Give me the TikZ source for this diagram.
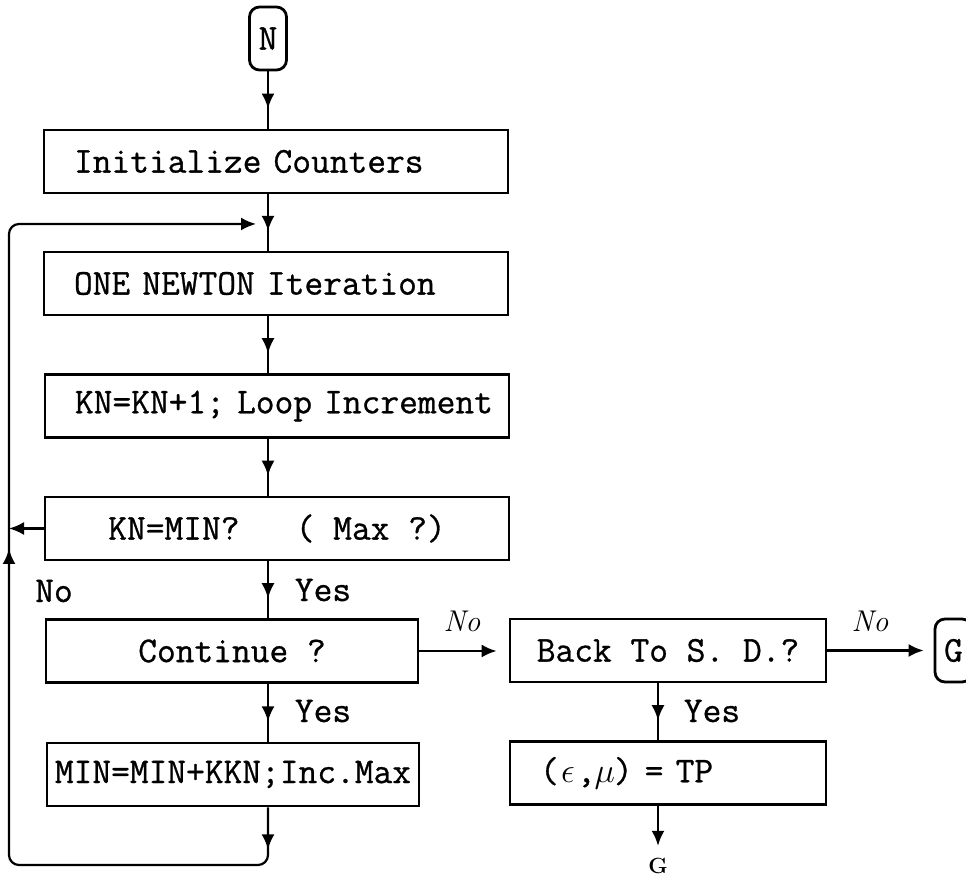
\documentclass[tikz,border=0pt]{standalone}
\usepackage{fontspec}
\setmonofont{Latin Modern Mono}[FakeBold=0.8]
\usetikzlibrary{arrows.meta,decorations.markings}

\newcommand{\flowfont}{\ttfamily\fontsize{18.2}{20}\selectfont}
\newcommand{\ttgreek}[1]{\makebox[0.5em]{$#1$}}

\tikzset{
  tip/.style={-{Latex[length=7.5pt,width=6.5pt]}},
  box/.style={draw, line width=1.4pt, minimum height=31.5pt, inner xsep=15pt, inner ysep=0pt, font=\flowfont},
  wide/.style={text width=232pt, inner xsep=0pt, align=left, execute at begin node={\hspace*{15pt}}},
  term/.style={draw, line width=1.4pt, rounded corners=5pt, minimum width=18.5pt, minimum height=31.5pt,
    inner sep=0pt, font=\flowfont},
  line/.style={line width=1.1pt},
  flow/.style={line, postaction={decorate}, decoration={markings,
    mark=at position 0.65 with {\arrow{Latex[length=7.5pt,width=6.5pt]}}}},
  retline/.style={line, rounded corners=5pt, tip, postaction={decorate}, decoration={markings,
    mark=at position 21pt with {\arrow{Latex[length=7.5pt,width=6.5pt]}},
    mark=at position 312pt with {\arrow{Latex[length=7.5pt,width=6.5pt]}}}},
  lbl/.style={font=\flowfont},
  nolbl/.style={font=\itshape\fontsize{15}{16}\selectfont},
}

\begin{document}
\begin{tikzpicture}[x=0.5pt,y=-0.5pt]
  \useasboundingbox (0,0) rectangle (966,876);
  \coordinate (col) at (268,0);
  \coordinate (col2) at (658,0);

  \node[term] (n) at (268,38.5) {N};
  \node[box, wide] (init) at (276,161.5) {Initialize Counters};
  \node[box, wide] (newton) at (276,283.5) {ONE NEWTON Iteration};
  \node[box, wide] (kn) at (277,406) {KN=KN+1; Loop Increment};
  \node[box, minimum width=232pt] (kmin) at (277,528.5) {KN=MIN?\ \ \ ( Max ?)};
  \node[box, minimum width=186pt] (cont) at (232,651) {Continue ?};
  \node[box, minimum width=186pt, inner xsep=3pt] (mininc) at (233,774.5) {MIN=MIN+KKN;Inc.Max};
  \node[box, minimum width=158pt, inner xsep=8pt] (back) at (668,650.5) {Back To S. D.?};
  \node[box, text width=128pt, align=left] (eps) at (668,773) {(\ttgreek{\epsilon},\ttgreek{\mu}) = TP};
  \node[term] (g) at (953.5,650.5) {G};
  \node[font=\bfseries\fontsize{11}{11}\selectfont, inner sep=0pt] (gend) at (658,866) {G};

  \node[lbl] (nol) at (54,591) {No};
  \node[lbl] (yes1) at (323,590) {Yes};
  \node[lbl] (yes2) at (323,711) {Yes};
  \node[lbl] (yes3) at (712,711) {Yes};
  \node[nolbl] (no2) at (462,621) {No};
  \node[nolbl] (no3) at (870,621) {No};

  \draw[flow] (n.south) -- (init.north -| col);
  \draw[flow] (init.south -| col) -- (newton.north -| col);
  \draw[flow] (newton.south -| col) -- (kn.north -| col);
  \draw[flow] (kn.south -| col) -- (kmin.north -| col);
  \draw[flow] (kmin.south -| col) -- (cont.north -| col);
  \draw[flow] (cont.south -| col) -- (mininc.north -| col);
  \draw[flow] (back.south -| col2) -- (eps.north -| col2);
  \draw[line, tip, shorten >=6pt] (eps.south -| col2) -- (gend.north);
  \draw[line, tip, shorten >=6pt] (cont.east) -- (cont.east -| back.west);
  \draw[line, tip, shorten >=5pt] (back.east) -- (back.east -| g.west);

  \coordinate (lbr) at (268,865);
  \coordinate (lbot) at (9,865);
  \coordinate (ltop) at (9,224);
  \coordinate (lin) at (256,224);
  \draw[line, tip] (kmin.west) -- (kmin.west -| ltop);
  \draw[retline] (mininc.south -| col) -- (lbr) -- (lbot) -- (ltop) -- (lin);
\end{tikzpicture}
\end{document}
